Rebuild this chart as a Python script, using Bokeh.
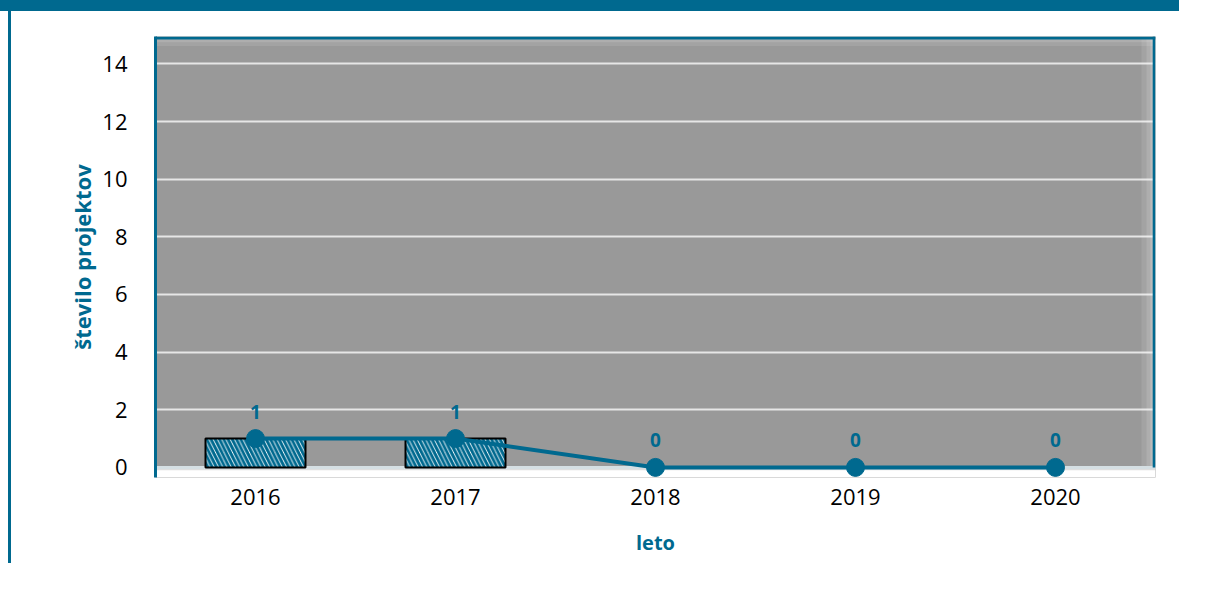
from bokeh.plotting import figure
from bokeh.models import FactorRange, Range1d, FixedTicker, BoxAnnotation, ColumnDataSource, Span
from bokeh.core.properties import value
from bokeh.embed import file_html
from bokeh.resources import INLINE

years = ["2016", "2017", "2018", "2019", "2020"]
bar_values = [1, 1, 0, 0, 0]
line_values = [1, 1, 0, 0, 0]
point_labels = ["1", "1", "0", "0", "0"]
y_ticks = [0, 2, 4, 6, 8, 10, 12, 14]

TEAL = "#00698f"
FONT = "Open Sans"

p = figure(width=1179, height=563, x_range=FactorRange(*years), y_range=Range1d(-0.35, 14.95),
           output_backend="svg", toolbar_location=None,
           min_border_left=144, min_border_right=35, min_border_top=25, min_border_bottom=97)
p.styles = {
    "border-top": "11px solid " + TEAL,
    "padding-left": "11px",
    "background": "linear-gradient(to right, white 0px, white 8px, %s 8px, %s 11px, white 11px)" % (TEAL, TEAL),
}
p.background_fill_color = "#999999"
p.border_fill_color = "white"
p.outline_line_color = None

# grid
p.xgrid.grid_line_color = None
p.ygrid.grid_line_color = "#e6e6e6"
p.ygrid.grid_line_width = 2
p.yaxis.ticker = FixedTicker(ticks=y_ticks)

# axes
for ax in (p.xaxis[0], p.yaxis[0]):
    ax.major_tick_line_color = None
    ax.minor_tick_line_color = None
    ax.major_tick_out = 0
    ax.major_tick_in = 0
    ax.major_label_text_font = FONT
    ax.major_label_text_font_size = "22px"
    ax.major_label_text_color = "black"
    ax.axis_label_text_font = FONT
    ax.axis_label_text_font_style = "bold"
    ax.axis_label_text_color = TEAL

p.yaxis.axis_line_color = TEAL
p.yaxis.axis_line_width = 3
p.yaxis.major_label_standoff = 28
p.yaxis.axis_label = "število projektov"
p.yaxis.axis_label_text_font_size = "22px"
p.yaxis.axis_label_standoff = 2

p.xaxis.axis_line_color = None
p.xaxis.major_label_standoff = 11
p.xaxis.axis_label = "leto"
p.xaxis.axis_label_text_font_size = "20px"
p.xaxis.axis_label_standoff = 21

# white strip under zero line so that markers at 0 are drawn whole
p.add_layout(BoxAnnotation(top=0, fill_color="white", fill_alpha=1, line_alpha=0, level="underlay"))
p.add_layout(BoxAnnotation(top=0, bottom=-0.1, fill_color="#808080", fill_alpha=0.25, line_alpha=0, level="underlay"))
# plot area inner glow (top, right) and teal borders
for b, a in ((14.62, 0.10), (14.75, 0.12), (14.85, 0.15)):
    p.add_layout(BoxAnnotation(bottom=b, fill_color="white", fill_alpha=a,
                               line_alpha=0, level="underlay"))
for l, a in ((4.93, 0.10), (4.955, 0.12), (4.975, 0.18)):
    p.add_layout(BoxAnnotation(left=l, bottom=0, fill_color="white", fill_alpha=a,
                               line_alpha=0, level="underlay"))
p.add_layout(BoxAnnotation(bottom=14.85, fill_color=TEAL, fill_alpha=1, line_alpha=0, level="overlay"))
p.add_layout(BoxAnnotation(left=4.986, bottom=0, fill_color=TEAL, fill_alpha=1, line_alpha=0, level="overlay"))
p.add_layout(Span(location=0, dimension="width", line_color="#d5dfe3", line_width=3, level="underlay"))

bar_outline = ["black" if v > 0 else None for v in bar_values]
src = ColumnDataSource(dict(x=years, bar=bar_values, y=line_values, lab=point_labels, lc=bar_outline))

p.vbar(x="x", top="bar", width=0.5, source=src, fill_color="white",
       hatch_pattern="\\", hatch_color=TEAL, hatch_scale=8.5, hatch_weight=3,
       line_color="lc", line_width=2)

p.line(x="x", y="y", source=src, line_color=TEAL, line_width=4)
p.scatter(x="x", y="y", source=src, size=18, marker="circle", fill_color=TEAL, line_color=TEAL)
p.text(x="x", y="y", text="lab", source=src, y_offset=-27, text_align="center",
       text_baseline="middle", text_font=value(FONT), text_font_style="bold",
       text_font_size="19px", text_color=TEAL)

open("out.html", "w").write(file_html(p, INLINE))
